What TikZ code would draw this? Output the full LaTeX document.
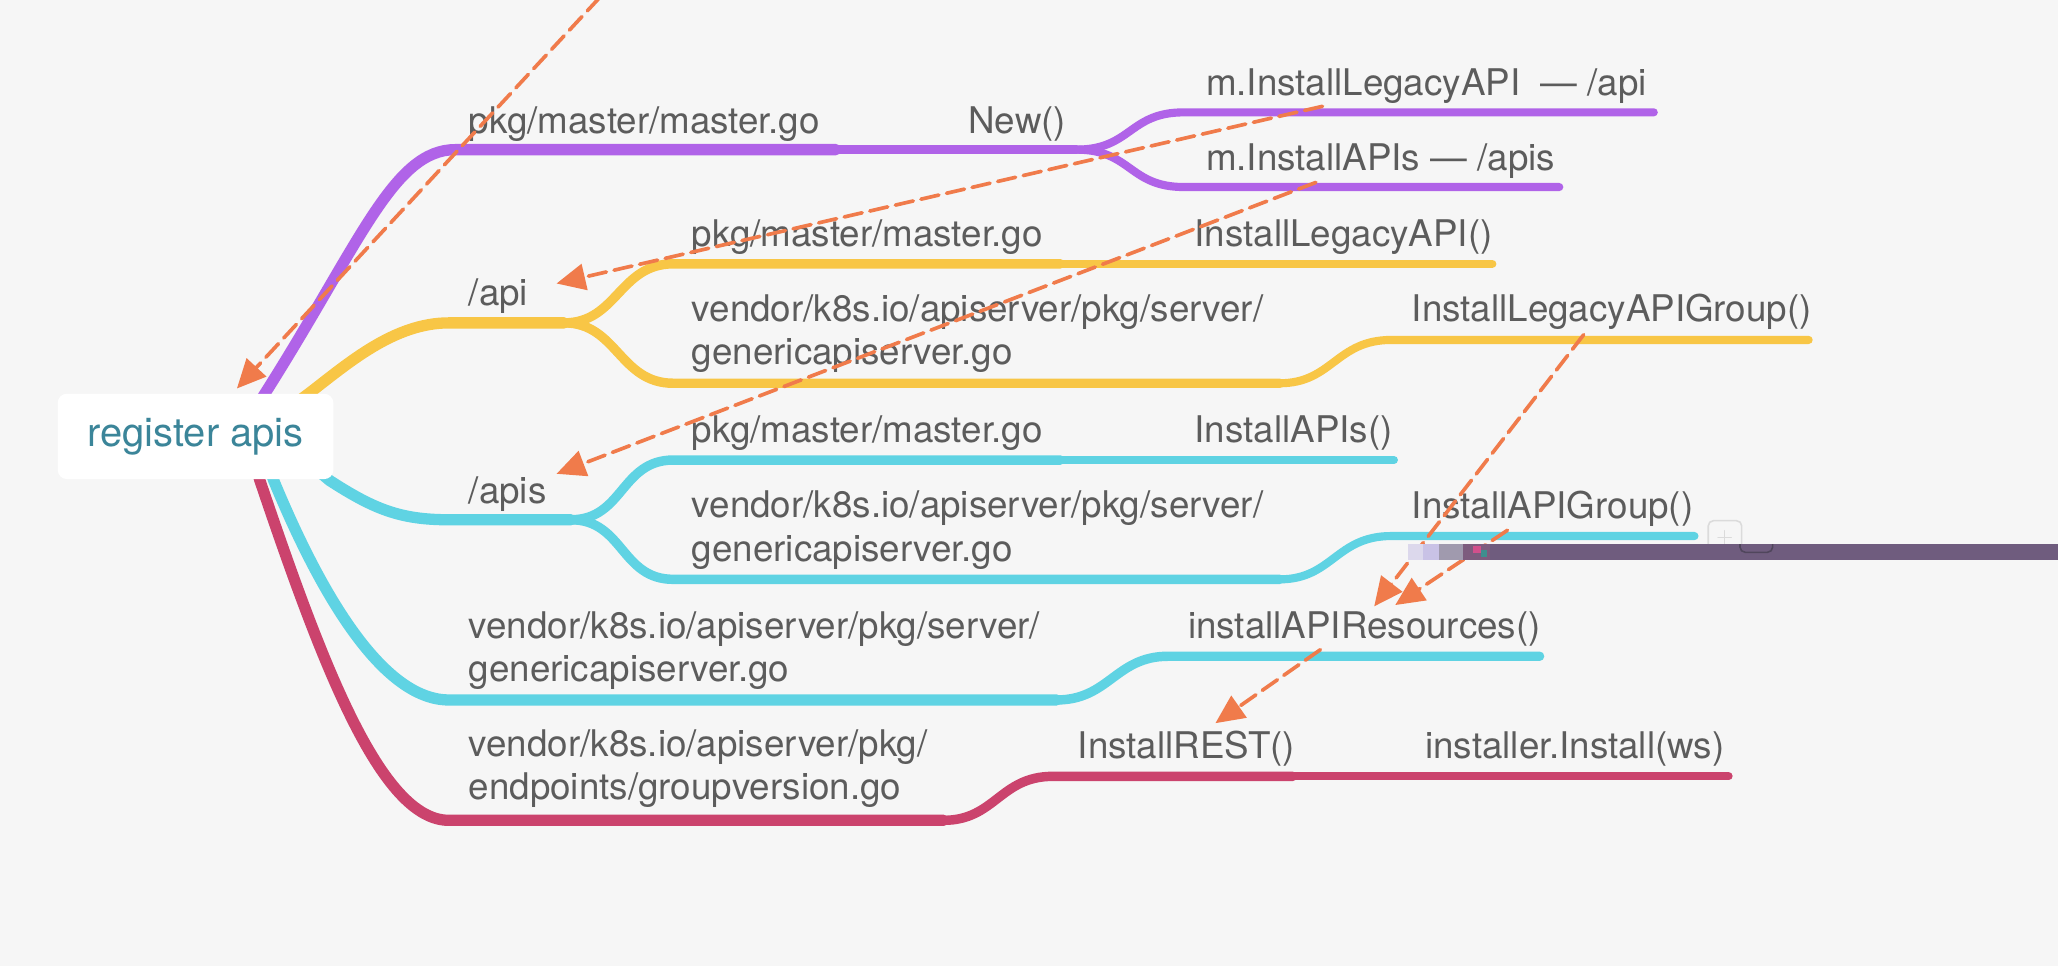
\documentclass[tikz,border=0pt]{standalone}
\usepackage{fontspec}
\setmainfont{TeX Gyre Heros}
\usetikzlibrary{arrows.meta}
\definecolor{bg}{HTML}{F6F6F6}
\definecolor{cpurple}{HTML}{B063E8}
\definecolor{cyellow}{HTML}{F8C646}
\definecolor{ccyan}{HTML}{5FD3E3}
\definecolor{cred}{HTML}{CB436D}
\definecolor{corange}{HTML}{F07B4B}
\definecolor{ctext}{HTML}{5C5C5C}
\definecolor{croot}{HTML}{3B8599}
\definecolor{cbar}{HTML}{6F5C7E}
\newcommand{\twoln}[2]{\vbox{\baselineskip=33pt\lineskiplimit=-100pt\hbox{#1}\hbox{#2}}}
\begin{document}
\begin{tikzpicture}[x=1pt,y=-1pt,line cap=round,
  lab/.style={anchor=base west,inner sep=0pt,text=ctext,font=\fontsize{28}{33}\selectfont},
  rootbox/.style={fill=white,rounded corners=7pt,minimum width=210pt,minimum height=65pt,inner sep=0pt,text=croot,font=\fontsize{30.4}{36}\selectfont},
  lone/.style={line width=8.6pt},
  ltwo/.style={line width=7.2pt},
  lthree/.style={line width=6.2pt},
  refarrow/.style={draw=corange,line width=2.8pt,dash pattern=on 14pt off 6pt,-{Triangle[length=22pt,width=20pt,fill=corange]}}]
\path[use as bounding box,fill=bg] (0,0) rectangle (1568,736);

% ---------- coordinates ----------
\coordinate (pA) at (191,317);   \coordinate (pB) at (203,298);
\coordinate (pC) at (347,114);   \coordinate (pD) at (637,114);
\coordinate (pE) at (820,114);
\coordinate (pF) at (902,85.6);  \coordinate (pG) at (1260,85.6);
\coordinate (pH) at (902,142.5); \coordinate (pI) at (1188,142.5);

\coordinate (yA) at (219,312);   \coordinate (yB) at (235,300);
\coordinate (yC) at (342,246);   \coordinate (yD) at (430,246);
\coordinate (yE) at (513,201);   \coordinate (yF) at (808,201);  \coordinate (yG) at (1137,201);
\coordinate (yH) at (513,292);   \coordinate (yI) at (975,292);
\coordinate (yJ) at (1060,259);  \coordinate (yK) at (1378,259);

\coordinate (cA) at (238,355);   \coordinate (cB) at (251,366);
\coordinate (cC) at (342,396);   \coordinate (cD) at (435,396);
\coordinate (cE) at (513,350.5); \coordinate (cF) at (808,350.5); \coordinate (cG) at (1062,350.5);
\coordinate (cH) at (513,441.4); \coordinate (cI) at (975,441.4);
\coordinate (cJ) at (1060,408.4); \coordinate (cK) at (1291,408.4);

\coordinate (dA) at (203,350);   \coordinate (dB) at (208.5,366);
\coordinate (dC) at (342,533.3); \coordinate (dD) at (805,533.3);
\coordinate (dE) at (890,500);   \coordinate (dF) at (1173,500);

\coordinate (rA) at (193,350);   \coordinate (rB) at (198,366);
\coordinate (rC) at (342,625);   \coordinate (rD) at (719,625);
\coordinate (rE) at (802,591.5); \coordinate (rF) at (985,591.5); \coordinate (rG) at (1317,591.5);

% ---------- purple ----------
\draw[cpurple,lone] (pA) -- (pB) .. controls (275,184) and (300,114) .. (pC) -- (pD);
\draw[cpurple,ltwo] (pD) -- (pE);
\draw[cpurple,lthree] (pE) .. controls (862,114) and (860,85.6) .. (pF) -- (pG);
\draw[cpurple,lthree] (pE) .. controls (862,114) and (860,142.5) .. (pH) -- (pI);

% ---------- yellow ----------
\draw[cyellow,lone] (yA) -- (yB) .. controls (265,277) and (300,246) .. (yC) -- (yD);
\draw[cyellow,ltwo] (yD) .. controls (470,246) and (472,201) .. (yE) -- (yF);
\draw[cyellow,lthree] (yF) -- (yG);
\draw[cyellow,ltwo] (yD) .. controls (470,246) and (472,292) .. (yH) -- (yI);
\draw[cyellow,lthree] (yI) .. controls (1015,292) and (1018,259) .. (yJ) -- (yK);

% ---------- red ----------
\draw[cred,lone] (rA) -- (rB) .. controls (245,505) and (290,625) .. (rC) -- (rD);
\draw[cred,ltwo] (rD) .. controls (758,625) and (762,591.5) .. (rE) -- (rF);
\draw[cred,lthree] (rF) -- (rG);

% ---------- cyan ----------
\draw[ccyan,lone] (cA) -- (cB) .. controls (285,388) and (305,396) .. (cC) -- (cD);
\draw[ccyan,ltwo] (cD) .. controls (475,396) and (473,350.5) .. (cE) -- (cF);
\draw[ccyan,lthree] (cF) -- (cG);
\draw[ccyan,ltwo] (cD) .. controls (475,396) and (473,441.4) .. (cH) -- (cI);
\draw[ccyan,lthree] (cI) .. controls (1015,441.4) and (1018,408.4) .. (cJ) -- (cK);

\draw[ccyan,lone] (dA) -- (dB) .. controls (235,430) and (285,533.3) .. (dC) -- (dD);
\draw[ccyan,ltwo] (dD) .. controls (845,533.3) and (850,500) .. (dE) -- (dF);

% ---------- root ----------
\node[rootbox] (root) at (149,332.5) {register apis};

% ---------- labels ----------
\node[lab] (t1) at (357,101.7) {pkg/master/master.go};
\node[lab] (t2) at (737.6,101.7) {New()};
\node[lab] (t3) at (918.7,72.4) {m.InstallLegacyAPI\ \ — /api};
\node[lab] (t4) at (918.7,130) {m.InstallAPIs — /apis};

\node[lab] (t5) at (357,233) {/api};
\node[lab] (t6) at (527,188) {pkg/master/master.go};
\node[lab] (t7) at (910,188) {InstallLegacyAPI()};
\node[lab] (t8) at (527,278) {\twoln{vendor/k8s.io/apiserver/pkg/server/}{genericapiserver.go}};
\node[lab] (t9) at (1075.5,245) {InstallLegacyAPIGroup()};

\node[lab] (t10) at (357,383.5) {/apis};
\node[lab] (t11) at (527,337) {pkg/master/master.go};
\node[lab] (t12) at (910,337) {InstallAPIs()};
\node[lab] (t13) at (527,427.5) {\twoln{vendor/k8s.io/apiserver/pkg/server/}{genericapiserver.go}};
\node[lab] (t14) at (1075.5,395) {InstallAPIGroup()};

\node[lab] (t15) at (357,519.4) {\twoln{vendor/k8s.io/apiserver/pkg/server/}{genericapiserver.go}};
\node[lab] (t16) at (905,486.3) {installAPIResources()};

\node[lab] (t17) at (357,609.5) {\twoln{vendor/k8s.io/apiserver/pkg/}{endpoints/groupversion.go}};
\node[lab] (t18) at (821,578) {InstallREST()};
\node[lab] (t19) at (1085.7,578) {installer.Install(ws)};

% ---------- small icon ----------
\draw[draw=black!14,line width=1.2pt,rounded corners=4pt] (1301.5,396.7) rectangle (1327,424);
\draw[draw=black!14,line width=1.2pt] (1309,409.4) -- (1319,409.4) (1314,404.4) -- (1314,414.4);

% ---------- dashed references ----------
\coordinate (a1s) at (457,-2);      \coordinate (a1e) at (180.5,296);
\coordinate (a2s) at (1007.6,81);   \coordinate (a2e) at (424,216);
\coordinate (a3s) at (1002.5,139);  \coordinate (a3e) at (424,361);
\coordinate (a4s) at (1206.6,255);  \coordinate (a4e) at (1047,462);
\coordinate (a5s) at (1148.5,404);  \coordinate (a5e) at (1063,461);
\coordinate (a6s) at (1006,495);    \coordinate (a6e) at (926,551);
\draw[refarrow] (a1s) -- (a1e);
\draw[refarrow] (a2s) -- (a2e);
\draw[refarrow] (a3s) -- (a3e);
\draw[refarrow] (a4s) -- (a4e);
\draw[refarrow] (a5s) -- (a5e);
\draw[refarrow] (a6s) -- (a6e);

% ---------- glitch bar ----------
\fill[cbar] (1135,414.5) rectangle (1568,426.7);
\fill[fill={rgb,255:red,220;green,216;blue,236}] (1073,414.5) rectangle (1084.4,426.7);
\fill[fill={rgb,255:red,201;green,194;blue,230}] (1084.4,414.5) rectangle (1096,426.7);
\fill[fill={rgb,255:red,160;green,154;blue,174}] (1096,414.5) rectangle (1115,426.7);
\fill[fill={rgb,255:red,125;green,92;blue,126}] (1115,414.5) rectangle (1135,426.7);
\fill[fill={rgb,255:red,210;green,80;blue,140}] (1122,416) rectangle (1128,421);
\fill[fill={rgb,255:red,63;green,142;blue,142}] (1128,419) rectangle (1133,424);
\begin{scope}
\clip (1300,414.5) rectangle (1360,426.7);
\draw[draw={rgb,255:red,80;green,70;blue,92},line width=1.2pt,rounded corners=4pt] (1325.7,400) rectangle (1350.6,420.8);
\end{scope}
\end{tikzpicture}
\end{document}
